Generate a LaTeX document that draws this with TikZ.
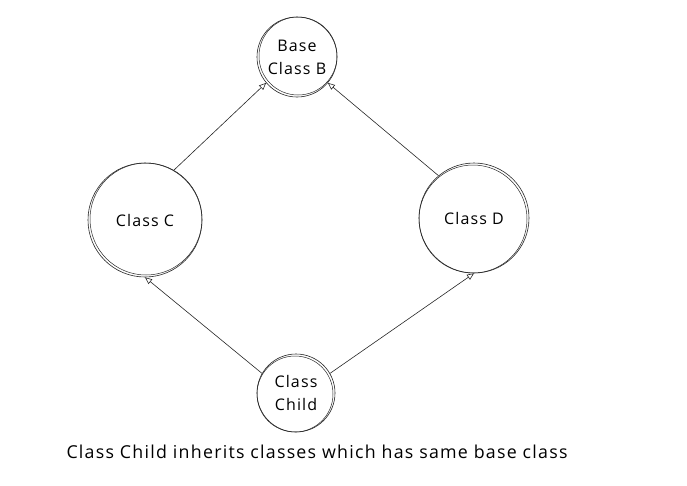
\documentclass[tikz,border=0pt]{standalone}
\usepackage{fontspec}
\setmainfont{Open Sans}[LetterSpace=7]
\usetikzlibrary{arrows.meta}
\begin{document}
\begin{tikzpicture}[x=1pt,y=-1pt,
  cls/.style={circle,draw=black!85,line width=0.6pt,align=center,font=\fontsize{16}{23}\selectfont,inner sep=0pt},
  sk/.style={draw=black!85,line width=0.5pt},
  arr/.style={-{Triangle[open,length=7pt,width=6pt]},black!85,line width=0.6pt}]
\useasboundingbox (0,0) rectangle (687,485);
\node[cls,minimum size=80pt] (b) at (297,57) {Base\\Class B};
\node[cls,minimum size=114pt] (c) at (145,220) {Class C};
\node[cls,minimum size=110pt] (d) at (474,218) {Class D};
\node[cls,minimum size=78pt] (ch) at (296,393) {Class\\Child};
\draw[sk] (298,56) circle (39);
\draw[sk] (146,219) circle (56);
\draw[sk] (473,219) circle (54);
\draw[sk] (295,394) circle (38);
\draw[arr] (c.60) -- (b.220);
\draw[arr] (d.130) -- (b.-40);
\draw[arr] (ch.150) -- (c.-90);
\draw[arr] (ch.30) -- (d.-90);
\node[font=\fontsize{17.8}{20}\selectfont,anchor=west] (cap) at (63,452) {Class Child inherits classes which has same base class};
\end{tikzpicture}
\end{document}
